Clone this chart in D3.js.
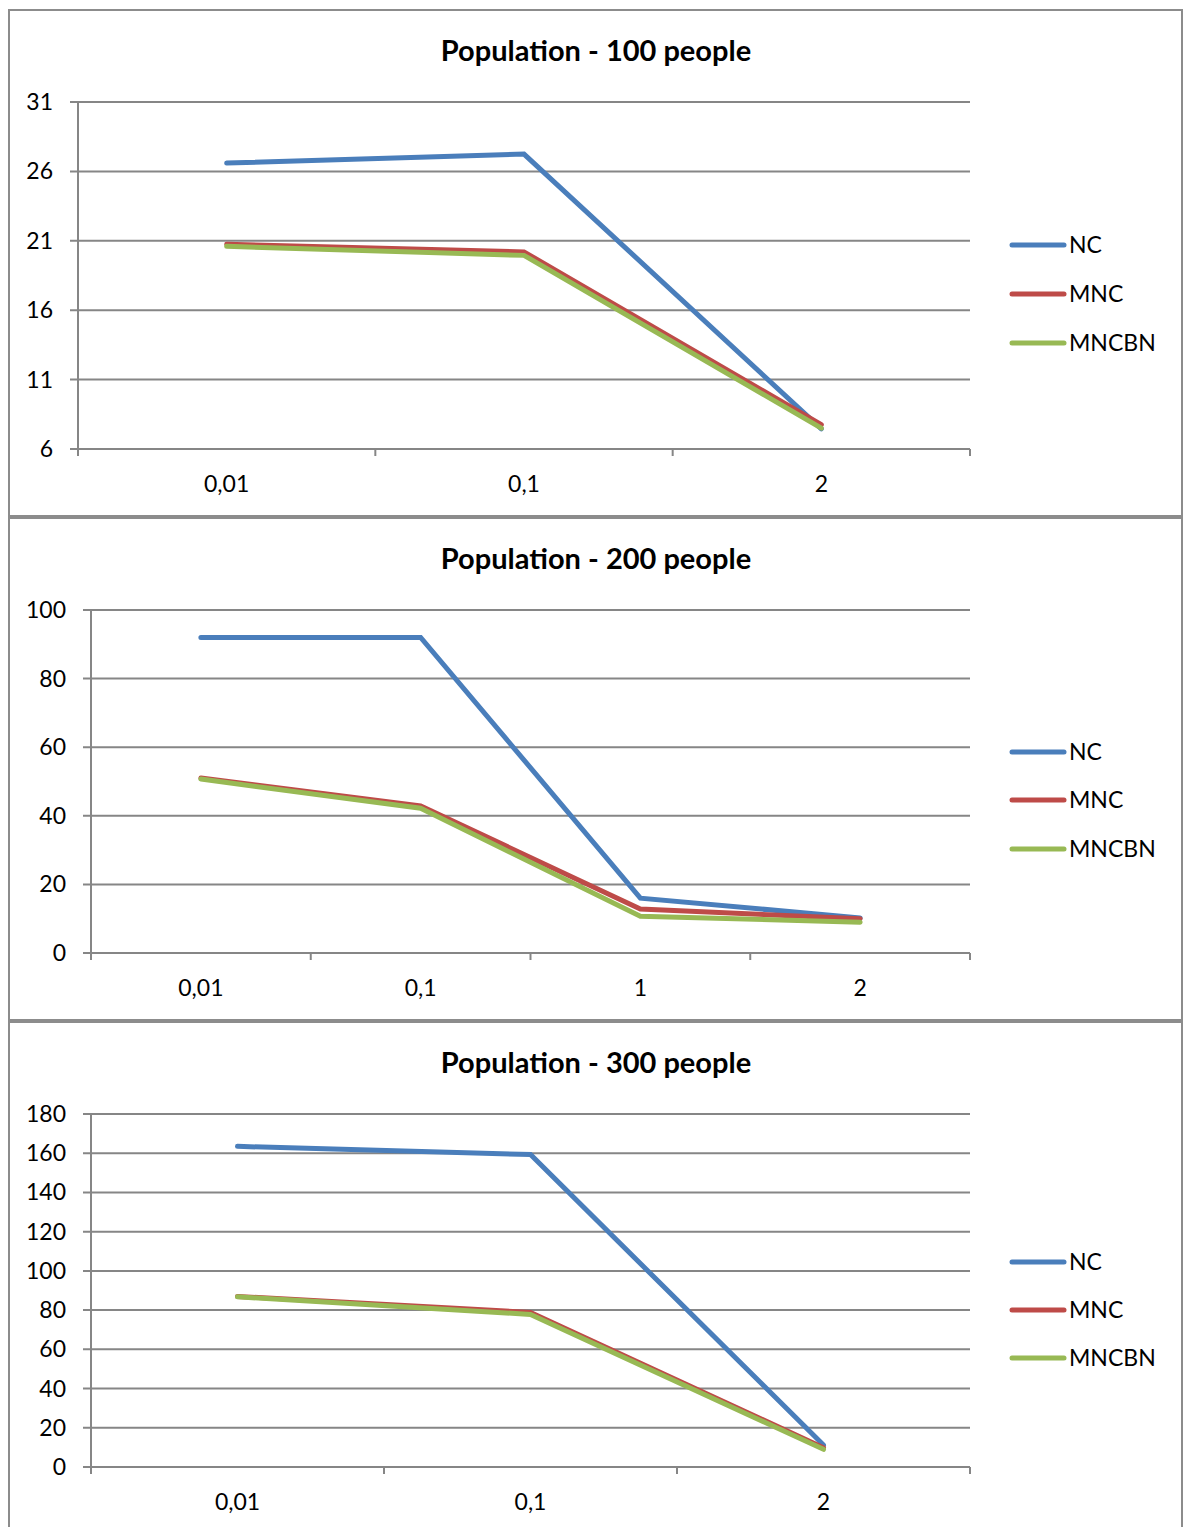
<!DOCTYPE html>
<html><head><meta charset="utf-8">
<script src="https://cdnjs.cloudflare.com/ajax/libs/d3/7.8.5/d3.min.js"></script>
<style>body{margin:0;background:#fff;}svg{display:block;font-family:Lato,"Open Sans",sans-serif;}</style>
</head><body>
<svg id="c" width="1187" height="1527"></svg>
<script>
const seriesNames = ["NC", "MNC", "MNCBN"];
const seriesColors = ["#4a7ebb", "#be4b48", "#98b954"];

const titles = ["Population - 100 people", "Population - 200 people", "Population - 300 people"];

const cats100 = ["0,01", "0,1", "2"];
const nc100 = [26.6, 27.25, 7.45];
const mnc100 = [20.75, 20.2, 7.75];
const mncbn100 = [20.6, 19.95, 7.5];
const yTicks100 = [6, 11, 16, 21, 26, 31];

const cats200 = ["0,01", "0,1", "1", "2"];
const nc200 = [92, 92, 16, 10.2];
const mnc200 = [51, 42.9, 12.8, 10];
const mncbn200 = [50.7, 42.2, 10.7, 9];
const yTicks200 = [0, 20, 40, 60, 80, 100];

const cats300 = ["0,01", "0,1", "2"];
const nc300 = [163.5, 159.3, 11.2];
const mnc300 = [87, 78.8, 9.8];
const mncbn300 = [86.8, 77.8, 9.0];
const yTicks300 = [0, 20, 40, 60, 80, 100, 120, 140, 160, 180];

const panels = [
  {top: 10, h: 506, title: titles[0], cats: cats100, series: [nc100, mnc100, mncbn100], ticks: yTicks100,
   x0: 78, x1: 970, y0: 449, y1: 102, legY: [245, 294, 343]},
  {top: 518, h: 502, title: titles[1], cats: cats200, series: [nc200, mnc200, mncbn200], ticks: yTicks200,
   x0: 91, x1: 970, y0: 953, y1: 610, legY: [752, 800, 849]},
  {top: 1022, h: 520, title: titles[2], cats: cats300, series: [nc300, mnc300, mncbn300], ticks: yTicks300,
   x0: 91, x1: 970, y0: 1467, y1: 1114, legY: [1262, 1310, 1358]}
];

const svg = d3.select("#c");
const grid = "#868686";

panels.forEach(p => {
  const g = svg.append("g");
  g.append("rect").attr("x", 9).attr("y", p.top).attr("width", 1173).attr("height", p.h)
    .attr("fill", "#fff").attr("stroke", "#8c8c8c").attr("stroke-width", 2);
  g.append("text").attr("x", 596).attr("y", p.top + 51).attr("text-anchor", "middle")
    .attr("font-size", 29).attr("font-weight", "bold").attr("fill", "#000").text(p.title);

  const x = d3.scaleBand().domain(p.cats).range([p.x0, p.x1]);
  const yDom = d3.extent(p.ticks);
  const y = d3.scaleLinear().domain(yDom).range([p.y0, p.y1]);

  g.selectAll(".gl").data(p.ticks).enter().append("line")
    .attr("x1", p.x0 - 8).attr("x2", p.x1).attr("y1", d => y(d)).attr("y2", d => y(d))
    .attr("stroke", grid).attr("stroke-width", 2);
  g.append("line").attr("x1", p.x0).attr("x2", p.x0).attr("y1", p.y1).attr("y2", p.y0 + 6)
    .attr("stroke", grid).attr("stroke-width", 2);
  g.selectAll(".yl").data(p.ticks).enter().append("text")
    .attr("x", p.x0 - 25).attr("y", d => y(d)).attr("dy", "0.35em").attr("text-anchor", "end")
    .attr("font-size", 23).attr("fill", "#000").text(d => d);
  const bounds = p.cats.map(c => x(c)).concat([p.x1]);
  g.selectAll(".xt").data(bounds).enter().append("line")
    .attr("x1", d => d).attr("x2", d => d).attr("y1", p.y0).attr("y2", p.y0 + 7)
    .attr("stroke", grid).attr("stroke-width", 2);
  g.selectAll(".xl").data(p.cats).enter().append("text")
    .attr("x", d => x(d) + x.bandwidth() / 2).attr("y", p.y0 + 43).attr("text-anchor", "middle")
    .attr("font-size", 23).attr("fill", "#000").text(d => d);

  const line = d3.line().x((d, i) => x(p.cats[i]) + x.bandwidth() / 2).y(d => y(d));
  p.series.forEach((s, k) => {
    g.append("path").attr("d", line(s)).attr("fill", "none")
      .attr("stroke", seriesColors[k]).attr("stroke-width", 5)
      .attr("stroke-linecap", "round").attr("stroke-linejoin", "miter");
  });

  seriesNames.forEach((n, k) => {
    g.append("line").attr("x1", 1012).attr("x2", 1064).attr("y1", p.legY[k]).attr("y2", p.legY[k])
      .attr("stroke", seriesColors[k]).attr("stroke-width", 5).attr("stroke-linecap", "round");
    g.append("text").attr("x", 1069).attr("y", p.legY[k]).attr("dy", "0.35em")
      .attr("font-size", 23).attr("fill", "#000").text(n);
  });
});
</script>
</body></html>
